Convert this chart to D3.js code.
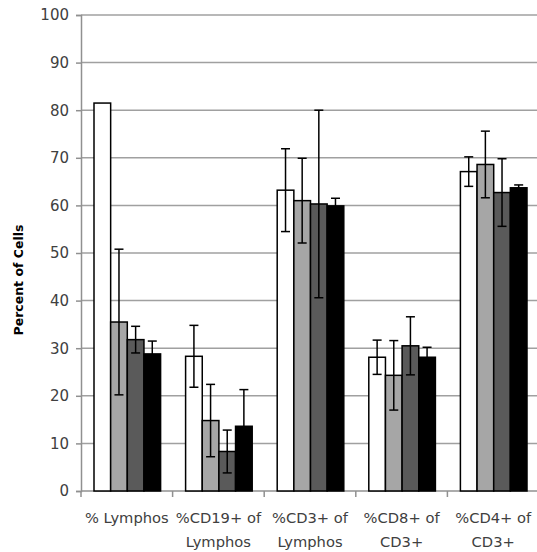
<!DOCTYPE html>
<html>
<head>
<meta charset="utf-8">
<script src="https://cdn.jsdelivr.net/npm/d3@7"></script>
<style>
  body { margin: 0; background: #fff; }
  svg { display: block; font-family: "DejaVu Sans", sans-serif; }
</style>
</head>
<body>
<div id="chart"></div>
<script>
// categories (two-line labels)
const categories = ["% Lymphos", "%CD19+ of Lymphos", "%CD3+ of Lymphos", "%CD8+ of CD3+", "%CD4+ of CD3+"];
const catLines = [["% Lymphos"], ["%CD19+ of", "Lymphos"], ["%CD3+ of", "Lymphos"], ["%CD8+ of", "CD3+"], ["%CD4+ of", "CD3+"]];
const seriesNames = ["s1", "s2", "s3", "s4"];
const seriesColors = ["#ffffff", "#a6a6a6", "#5a5a5a", "#000000"];

// mean values per series (one per category)
const s1 = [81.5, 28.3, 63.2, 28.1, 67.1];
const s2 = [35.5, 14.8, 61.0, 24.3, 68.6];
const s3 = [31.8, 8.3, 60.3, 30.5, 62.7];
const s4 = [28.8, 13.6, 59.9, 28.1, 63.7];
// error bar half widths (null = none)
const e1 = [null, 6.5, 8.7, 3.6, 3.1];
const e2 = [15.3, 7.6, 8.9, 7.3, 7.0];
const e3 = [2.8, 4.5, 19.7, 6.1, 7.1];
const e4 = [2.7, 7.7, 1.6, 2.1, 0.6];

const yTicks = [0, 10, 20, 30, 40, 50, 60, 70, 80, 90, 100];

const width = 537, height = 552;
const margin = ({top: 15, right: -2, bottom: 61, left: 81});

const svg = d3.select("#chart").append("svg")
    .attr("width", width)
    .attr("height", height);

const x = d3.scaleBand()
    .domain(categories)
    .range([margin.left, width - margin.right])
    .paddingInner(0)
    .paddingOuter(0);

const xIn = d3.scaleBand()
    .domain(seriesNames)
    .range([13, x.bandwidth() - 12]);

const y = d3.scaleLinear()
    .domain([0, 100])
    .range([height - margin.bottom, margin.top]);

// gridlines
svg.append("g")
  .selectAll("line")
  .data(yTicks.filter(d => d > 0))
  .join("line")
    .attr("x1", margin.left)
    .attr("x2", width)
    .attr("y1", d => y(d))
    .attr("y2", d => y(d))
    .attr("stroke", "#a0a0a0")
    .attr("stroke-width", 1.5);

// y axis
const yAxis = svg.append("g")
    .attr("transform", `translate(${margin.left},0)`)
    .call(d3.axisLeft(y).tickValues(yTicks).tickSize(5).tickPadding(7));
yAxis.select(".domain").attr("stroke", "#909090").attr("stroke-width", 1.5);
yAxis.selectAll(".tick line").attr("stroke", "#909090").attr("stroke-width", 1.5);
yAxis.selectAll(".tick text")
    .attr("font-size", 15)
    .attr("fill", "#404040")
    .attr("font-family", "DejaVu Sans, sans-serif");

// x axis
const xAxis = svg.append("g")
    .attr("transform", `translate(0,${y(0)})`);
xAxis.append("line")
    .attr("x1", margin.left).attr("x2", width)
    .attr("stroke", "#909090").attr("stroke-width", 1.5);
xAxis.selectAll(".xt")
  .data(categories)
  .join("line")
    .attr("class", "xt")
    .attr("x1", d => x(d)).attr("x2", d => x(d))
    .attr("y1", 0).attr("y2", 6)
    .attr("stroke", "#909090").attr("stroke-width", 1.5);

xAxis.selectAll(".xl")
  .data(categories)
  .join("text")
    .attr("class", "xl")
    .attr("text-anchor", "middle")
    .attr("font-size", 14.7)
    .attr("fill", "#404040")
    .attr("x", d => x(d) + x.bandwidth() / 2)
    .attr("y", 32)
    .each(function(d, i) {
      const t = d3.select(this);
      catLines[i].forEach((l, j) => {
        t.append("tspan")
          .attr("x", x(d) + x.bandwidth() / 2)
          .attr("dy", j === 0 ? 0 : 23.5)
          .text(l);
      });
    });

// bars
const allVals = [s1, s2, s3, s4];
const allErr = [e1, e2, e3, e4];
const rows = [];
categories.forEach((c, i) => {
  seriesNames.forEach((s, j) => {
    rows.push({cat: c, ser: s, idx: j, v: allVals[j][i], e: allErr[j][i]});
  });
});

svg.append("g")
  .selectAll("rect")
  .data(rows)
  .join("rect")
    .attr("x", d => x(d.cat) + xIn(d.ser))
    .attr("y", d => y(d.v))
    .attr("width", xIn.bandwidth())
    .attr("height", d => y(0) - y(d.v))
    .attr("fill", d => seriesColors[d.idx])
    .attr("stroke", "#000")
    .attr("stroke-width", 1.5);

// error bars
const eb = svg.append("g")
  .selectAll("g")
  .data(rows.filter(d => d.e != null))
  .join("g")
    .attr("transform", d => `translate(${x(d.cat) + xIn(d.ser) + xIn.bandwidth() / 2},0)`)
    .attr("stroke", "#000")
    .attr("stroke-width", 1.5);
eb.append("line")
    .attr("y1", d => y(d.v - d.e)).attr("y2", d => y(d.v + d.e));
eb.append("line")
    .attr("x1", -4.5).attr("x2", 4.5)
    .attr("y1", d => y(d.v + d.e)).attr("y2", d => y(d.v + d.e));
eb.append("line")
    .attr("x1", -4.5).attr("x2", 4.5)
    .attr("y1", d => y(d.v - d.e)).attr("y2", d => y(d.v - d.e));

// y label
svg.append("text")
    .attr("transform", `translate(23,280) rotate(-90)`)
    .attr("text-anchor", "middle")
    .attr("font-size", 12.5)
    .attr("font-weight", "bold")
    .attr("fill", "#000")
    .text("Percent of Cells");
</script>
</body>
</html>
